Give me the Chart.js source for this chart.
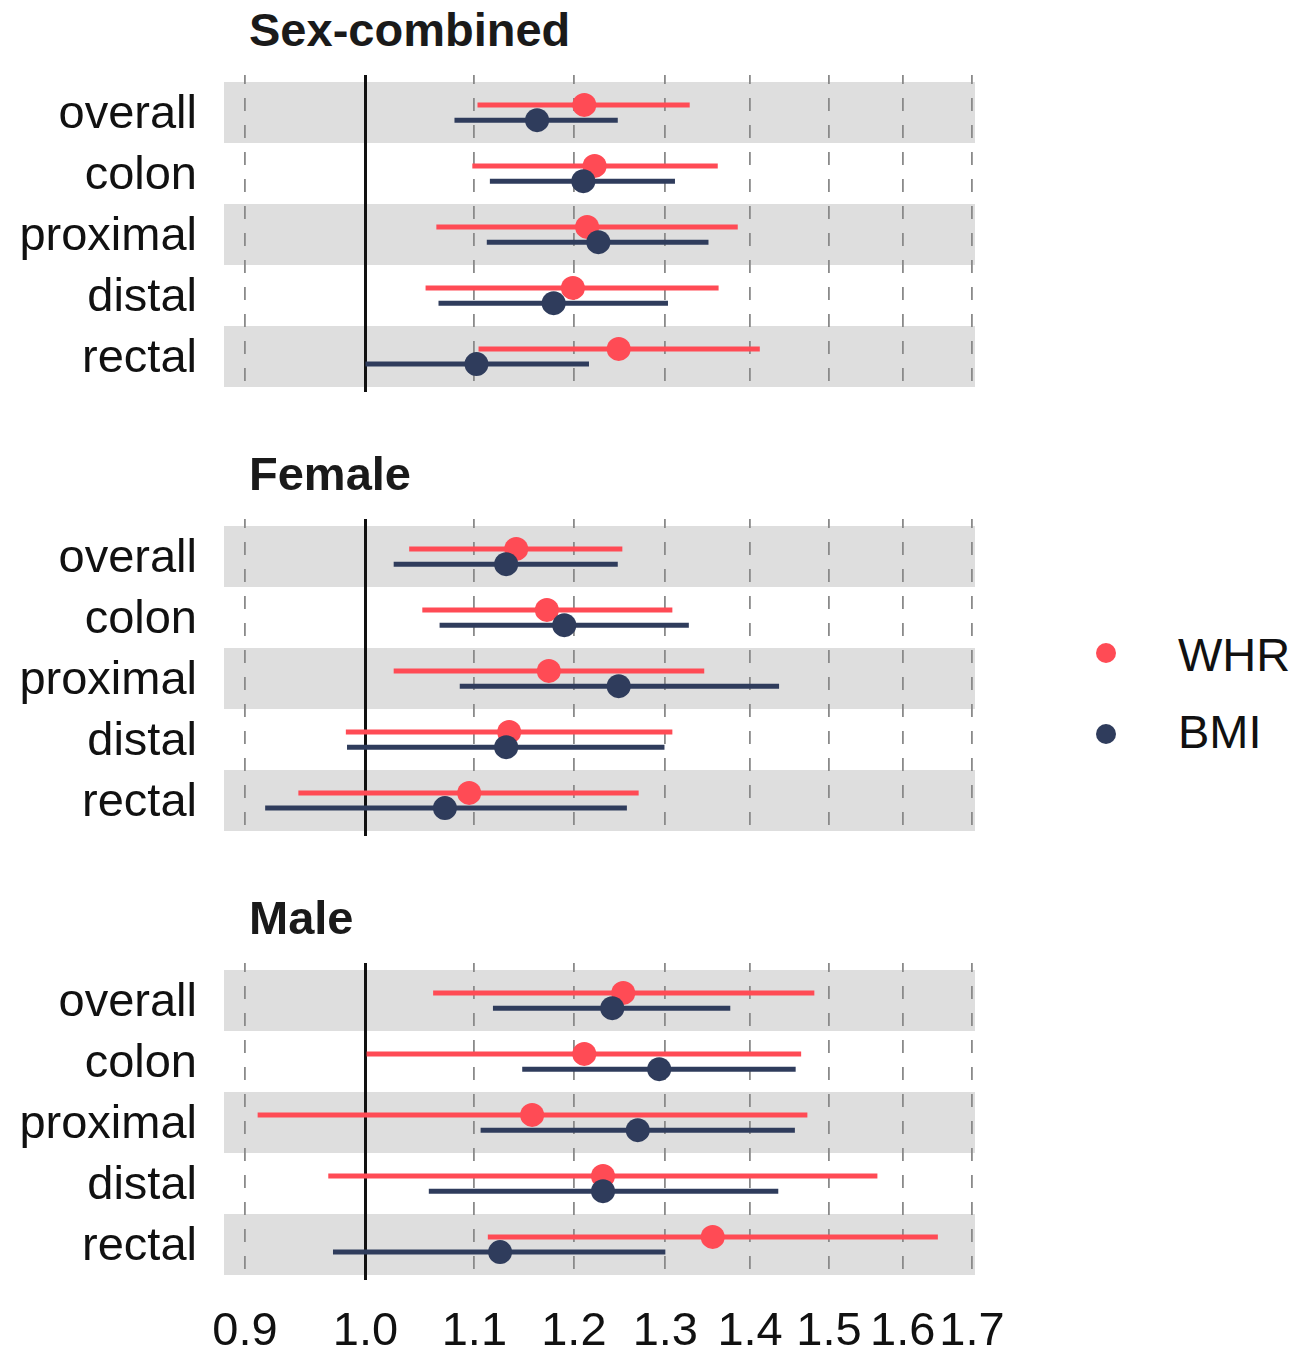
<!DOCTYPE html>
<html>
<head>
<meta charset="utf-8">
<script src="https://cdn.jsdelivr.net/npm/chart.js@4.4.1/dist/chart.umd.min.js"></script>
<style>
  html, body { margin: 0; padding: 0; background: #ffffff; }
  #wrap { position: relative; width: 1314px; height: 1348px; overflow: hidden;
          font-family: "Liberation Sans", Arial, Helvetica, sans-serif; color: #111; }
  .panel { position: absolute; left: 0; }
  .title { position: absolute; left: 249px; font-weight: bold; font-size: 47px;
           line-height: 47px; color: #1a1a1a; white-space: nowrap; }
  .key-dot { position: absolute; width: 20px; height: 20px; border-radius: 50%; }
  .key-text { position: absolute; left: 1178px; font-size: 47px; line-height: 47px; white-space: nowrap; }
</style>
</head>
<body>
<div id="wrap"></div>
<script>
// Cancer sites (rows, top to bottom) and panels
const outcomes = ['overall', 'colon', 'proximal', 'distal', 'rectal'];
const panelTitles = ['Sex-combined', 'Female', 'Male'];
const seriesNames = ['WHR', 'BMI'];
const xTicks = [0.9, 1.0, 1.1, 1.2, 1.3, 1.4, 1.5, 1.6, 1.7];
const referenceOR = 1.0;

// Sex-combined: odds ratio with 95% CI
const combinedWhr     = [1.211, 1.222, 1.214, 1.199, 1.248];
const combinedWhrLow  = [1.103, 1.098, 1.064, 1.054, 1.104];
const combinedWhrHigh = [1.328, 1.361, 1.385, 1.362, 1.412];
const combinedBmi     = [1.162, 1.210, 1.226, 1.179, 1.102];
const combinedBmiLow  = [1.081, 1.115, 1.112, 1.066, 1.000];
const combinedBmiHigh = [1.247, 1.311, 1.350, 1.303, 1.216];

// Female
const femaleWhr     = [1.141, 1.172, 1.174, 1.134, 1.095];
const femaleWhrLow  = [1.039, 1.051, 1.025, 0.983, 0.943];
const femaleWhrHigh = [1.252, 1.308, 1.345, 1.308, 1.270];
const femaleBmi     = [1.131, 1.190, 1.248, 1.131, 1.072];
const femaleBmiLow  = [1.025, 1.067, 1.086, 0.984, 0.916];
const femaleBmiHigh = [1.247, 1.327, 1.436, 1.299, 1.257];

// Male
const maleWhr     = [1.253, 1.211, 1.157, 1.231, 1.355];
const maleWhrLow  = [1.061, 1.001, 0.910, 0.968, 1.113];
const maleWhrHigh = [1.481, 1.464, 1.472, 1.565, 1.650];
const maleBmi     = [1.241, 1.293, 1.269, 1.231, 1.125];
const maleBmiLow  = [1.118, 1.147, 1.106, 1.057, 0.972];
const maleBmiHigh = [1.376, 1.457, 1.456, 1.435, 1.300];

const COLORS = { WHR: '#ff4b55', BMI: '#2f3c5c' };
const FONT = '"Liberation Sans", Arial, Helvetica, sans-serif';
const DODGE = 0.125;
const PAD = 60;

const panelSeries = [
  { WHR: [combinedWhr, combinedWhrLow, combinedWhrHigh], BMI: [combinedBmi, combinedBmiLow, combinedBmiHigh] },
  { WHR: [femaleWhr, femaleWhrLow, femaleWhrHigh],       BMI: [femaleBmi, femaleBmiLow, femaleBmiHigh] },
  { WHR: [maleWhr, maleWhrLow, maleWhrHigh],             BMI: [maleBmi, maleBmiLow, maleBmiHigh] }
];

// Alternating grey row bands
const rowBands = {
  id: 'rowBands',
  beforeDraw(chart) {
    const { ctx, chartArea, scales: { y } } = chart;
    ctx.save();
    ctx.fillStyle = '#dedede';
    outcomes.forEach((_, i) => {
      if (i % 2 !== 0) return;
      const a = y.getPixelForValue(i + 0.5), b = y.getPixelForValue(i + 1.5);
      ctx.fillRect(chartArea.left, Math.min(a, b), chartArea.right - chartArea.left, Math.abs(b - a));
    });
    ctx.restore();
  }
};

// Solid line at OR = 1
const nullLine = {
  id: 'nullLine',
  beforeDatasetsDraw(chart) {
    const { ctx, chartArea, scales: { x } } = chart;
    const px = Math.round(x.getPixelForValue(referenceOR)) + 0.5;
    ctx.save();
    ctx.strokeStyle = '#111111';
    ctx.lineWidth = 3;
    ctx.beginPath();
    ctx.moveTo(px, chartArea.top);
    ctx.lineTo(px, chartArea.bottom);
    ctx.stroke();
    ctx.restore();
  }
};

// Confidence interval segments, drawn just before each dataset's points
const ciSegments = {
  id: 'ciSegments',
  beforeDatasetDraw(chart, args) {
    const ds = chart.data.datasets[args.index];
    const { ctx, scales: { x, y } } = chart;
    ctx.save();
    ctx.strokeStyle = ds.borderColor;
    ctx.lineWidth = 5;
    ctx.lineCap = 'butt';
    ds.data.forEach(d => {
      const py = y.getPixelForValue(d.y);
      ctx.beginPath();
      ctx.moveTo(x.getPixelForValue(d.lo), py);
      ctx.lineTo(x.getPixelForValue(d.hi), py);
      ctx.stroke();
    });
    ctx.restore();
  }
};

const wrap = document.getElementById('wrap');

panelTitles.forEach((title, p) => {
  const isLast = p === panelTitles.length - 1;
  const plotTop = 75 + 444 * p;

  const t = document.createElement('div');
  t.className = 'title';
  t.style.top = (6 + 444 * p) + 'px';
  t.textContent = title;
  wrap.appendChild(t);

  const holder = document.createElement('div');
  holder.className = 'panel';
  holder.style.top = (plotTop - PAD) + 'px';
  const canvas = document.createElement('canvas');
  canvas.width = 1060;
  canvas.height = PAD + 317 + (isLast ? 68 : PAD);
  holder.appendChild(canvas);
  wrap.appendChild(holder);

  const datasets = seriesNames.map((name, s) => {
    const [est, lo, hi] = panelSeries[p][name];
    return {
      type: 'scatter',
      label: name,
      data: est.map((v, i) => ({ x: v, y: i + 1 + (s === 0 ? -DODGE : DODGE), lo: lo[i], hi: hi[i] })),
      backgroundColor: COLORS[name],
      borderColor: COLORS[name],
      borderWidth: 0,
      pointRadius: 12,
      pointHoverRadius: 12,
      order: s === 0 ? 2 : 1
    };
  });

  new Chart(canvas, {
    type: 'scatter',
    data: { datasets },
    options: {
      responsive: false,
      animation: false,
      events: [],
      layout: { padding: { top: PAD, bottom: isLast ? 0 : PAD, left: 0, right: 85 } },
      plugins: { legend: { display: false }, tooltip: { enabled: false }, title: { display: false } },
      scales: {
        x: {
          type: 'logarithmic',
          min: 0.8836,
          max: 1.7045,
          afterBuildTicks: s => { s.ticks = xTicks.map(v => ({ value: v })); },
          afterFit: s => { s.height = isLast ? 68 : 0; },
          grid: {
            color: c => (c.tick && c.tick.value === referenceOR) ? 'rgba(0,0,0,0)' : '#8a8a8a',
            lineWidth: 1.8,
            drawTicks: false
          },
          border: { display: false, dash: [13, 14], dashOffset: 4 },
          ticks: {
            display: isLast,
            autoSkip: false,
            maxRotation: 0,
            minRotation: 0,
            padding: 24,
            color: '#111111',
            font: { family: FONT, size: 47 },
            callback: v => Number(v).toFixed(1)
          }
        },
        y: {
          type: 'linear',
          reverse: true,
          min: 0.385,
          max: 5.582,
          afterBuildTicks: s => { s.ticks = outcomes.map((_, i) => ({ value: i + 1 })); },
          afterFit: s => { s.width = 224; },
          grid: { display: false, drawTicks: false },
          border: { display: false },
          ticks: {
            padding: 27,
            labelOffset: 3,
            color: '#111111',
            font: { family: FONT, size: 47 },
            callback: v => outcomes[Math.round(v) - 1]
          }
        }
      }
    },
    plugins: [rowBands, nullLine, ciSegments]
  });
});

// Key
seriesNames.forEach((name, s) => {
  const cy = s === 0 ? 653 : 734;
  const dot = document.createElement('div');
  dot.className = 'key-dot';
  dot.style.left = (1106 - 10) + 'px';
  dot.style.top = (cy - 10) + 'px';
  dot.style.background = COLORS[name];
  wrap.appendChild(dot);
  const txt = document.createElement('div');
  txt.className = 'key-text';
  txt.style.top = (s === 0 ? 631 : 708) + 'px';
  txt.textContent = name;
  wrap.appendChild(txt);
});
</script>
</body>
</html>
